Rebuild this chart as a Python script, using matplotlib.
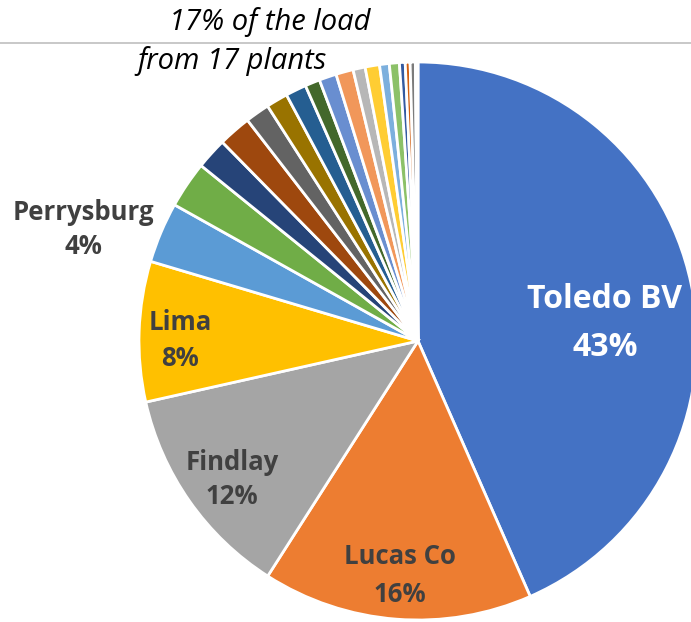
import matplotlib
matplotlib.use("Agg")
import matplotlib.pyplot as plt

# ---- data (percent of load) ----
plants = ["Toledo BV", "Lucas Co", "Findlay", "Lima", "Perrysburg",
          "P6", "P7", "P8", "P9", "P10", "P11", "P12", "P13", "P14", "P15",
          "P16", "P17", "P18", "P19", "P20", "P21", "P22"]
shares = [43.3, 15.6, 12.4, 8.1, 3.5,
          2.7, 1.8, 1.9, 1.4, 1.25, 1.2, 0.86, 1.0, 1.0, 0.7,
          0.83, 0.56, 0.58, 0.33, 0.28, 0.3, 0.15]
colors = ["#4472C4", "#ED7D31", "#A5A5A5", "#FFC000", "#5B9BD5",
          "#70AD47", "#264478", "#9E480E", "#636363", "#997300", "#255E91",
          "#43682B", "#698ED0", "#F1975A", "#B7B7B7", "#FFCD33", "#7CAFDD",
          "#8CC168", "#335AA1", "#D26012", "#7C7C7C", "#BF9000"]
label_names = ["Toledo BV", "Lucas Co", "Findlay", "Lima", "Perrysburg"]
label_pcts = ["43%", "16%", "12%", "8%", "4%"]
title_lines = ["17% of the load", "from 17 plants"]

W, H = 691, 622
fig = plt.figure(figsize=(W / 100, H / 100), dpi=100)
ax = fig.add_axes([0, 0, 1, 1])

def Y(y):
    return H - y

cx, cy, r = 418, 341, 279
wedges, _ = ax.pie(shares, colors=colors, startangle=90, counterclock=False,
                   center=(cx, Y(cy)), radius=r, frame=True,
                   wedgeprops=dict(edgecolor="white", linewidth=2.0))
ax.set_xlim(0, W)
ax.set_ylim(0, H)
ax.set_aspect("equal")
ax.axis("off")

# top border line
ax.plot([0, W], [Y(42.7), Y(42.7)], color="#BFBFBF", lw=1.2, clip_on=False)

font = "Open Sans"
lab_pos = [(605, 300, 347), (400, 557, 594), (232, 462, 497), (180, 323, 358), (83, 213, 247)]
lab_col = ["white", "#404040", "#404040", "#404040", "#404040"]
lab_size = [23, 18.5, 18.5, 18.5, 18.5]
for (x, y1, y2), name, pct, c, s in zip(lab_pos, label_names, label_pcts, lab_col, lab_size):
    ax.text(x, Y(y1), name, ha="center", va="center", color=c, fontsize=s,
            fontweight="bold", family=font)
    ax.text(x, Y(y2), pct, ha="center", va="center", color=c, fontsize=s,
            fontweight="bold", family=font)

ax.text(270, Y(22), title_lines[0], ha="center", va="center", fontsize=21,
        style="italic", color="black", family=font)
ax.text(232, Y(61), title_lines[1], ha="center", va="center", fontsize=21,
        style="italic", color="black", family=font)

fig.savefig("out.png", dpi=100)
